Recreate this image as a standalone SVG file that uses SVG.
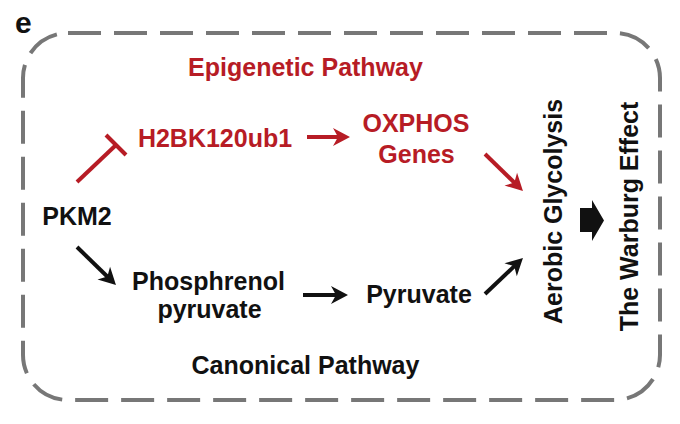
<svg xmlns="http://www.w3.org/2000/svg" width="680" height="424" viewBox="0 0 680 424">
<style>
  text { font-family: "Liberation Sans", Arial, sans-serif; font-weight: bold; font-size: 25px; }
  .red { fill: #b71c25; }
  .blk { fill: #111111; }
  .c { text-anchor: middle; }
  .lr { stroke: #b71c25; stroke-width: 4; fill: none; }
  .lb { stroke: #111111; stroke-width: 4; fill: none; }
</style>
<defs>
  <marker id="ahr" markerUnits="userSpaceOnUse" markerWidth="22" markerHeight="22" viewBox="-10 -11 22 22" refX="0" refY="0" orient="auto">
    <path d="M10,0 L-7,-9 L-2,0 L-7,9 Z" fill="#b71c25"/>
  </marker>
  <marker id="ahb" markerUnits="userSpaceOnUse" markerWidth="22" markerHeight="22" viewBox="-10 -11 22 22" refX="0" refY="0" orient="auto">
    <path d="M10,0 L-7,-9 L-2,0 L-7,9 Z" fill="#111111"/>
  </marker>
</defs>
<rect width="680" height="424" fill="#ffffff"/>
<text x="15" y="33" class="blk" style="font-size:30px">e</text>
<rect id="frame" x="23" y="33" width="637" height="367" rx="45" ry="45" fill="none" stroke="#777777" stroke-width="4" stroke-dasharray="33 13"/>
<text x="305.5" y="76" class="red c">Epigenetic Pathway</text>
<text x="305.5" y="374" class="blk c">Canonical Pathway</text>
<g id="pkm2"><text x="77" y="225" class="blk c">PKM2</text></g>
<g id="h2bk"><text x="215" y="147" class="red c">H2BK120ub1</text></g>
<g id="oxphos"><text x="416" y="132" class="red c">OXPHOS</text><text x="416.5" y="163" class="red c">Genes</text></g>
<g id="pep"><text x="208.5" y="290" class="blk c">Phosphrenol</text><text x="209.5" y="318" class="blk c">pyruvate</text></g>
<g id="pyruvate"><text x="419" y="303" class="blk c">Pyruvate</text></g>
<g id="aerobic"><text transform="translate(562,211.5) rotate(-90)" class="blk c">Aerobic Glycolysis</text></g>
<g id="warburg"><text transform="translate(638,216.5) rotate(-90)" class="blk c">The Warburg Effect</text></g>
<g id="connectors">
  <line x1="77" y1="182" x2="116" y2="145" class="lr"/>
  <line x1="106" y1="135" x2="126" y2="155" class="lr"/>
  <line x1="307" y1="137" x2="340" y2="137" class="lr" marker-end="url(#ahr)"/>
  <line x1="485" y1="154" x2="515.8" y2="184" class="lr" marker-end="url(#ahr)"/>
  <line x1="77" y1="247" x2="108.8" y2="278" class="lb" marker-end="url(#ahb)"/>
  <line x1="303" y1="295" x2="338" y2="295" class="lb" marker-end="url(#ahb)"/>
  <line x1="485" y1="294" x2="515.7" y2="264.9" class="lb" marker-end="url(#ahb)"/>
  <path d="M580,208 L592,208 L592,200 L604,220.5 L592,241 L592,232 L580,232 Z" fill="#111111"/>
</g>
</svg>
